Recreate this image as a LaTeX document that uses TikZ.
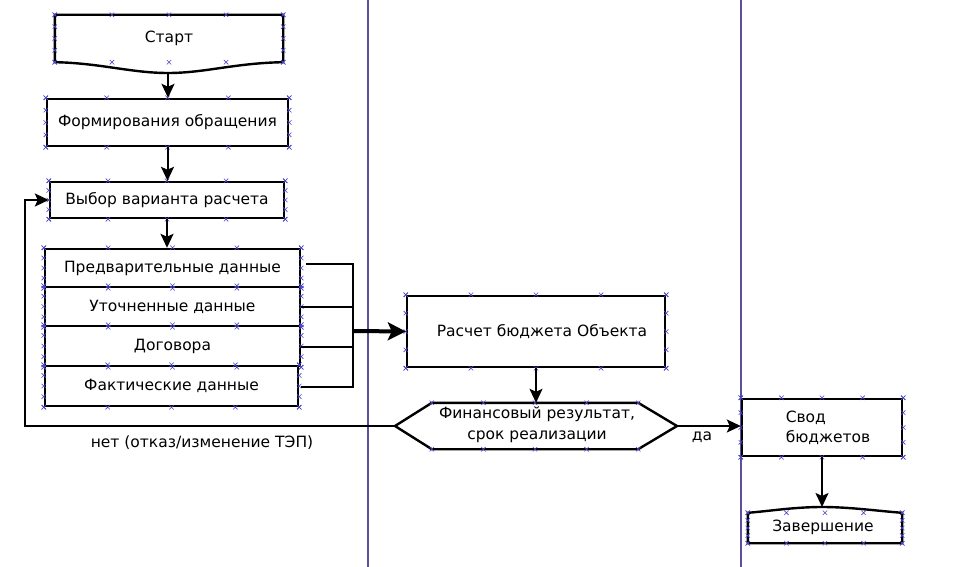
\documentclass[tikz,border=0pt]{standalone}
\usepackage{fontspec}
\setmainfont{DejaVu Sans}
\usetikzlibrary{arrows.meta,calc}
\definecolor{lane}{HTML}{5A4FA0}
\definecolor{xmcol}{HTML}{4A46C8}
\tikzset{
  box/.style={draw=black,line width=2.4pt,fill=white,inner sep=0pt,font=\fontsize{15.5}{20}\selectfont},
  ghost/.style={inner sep=0pt,font=\fontsize{15.5}{20}\selectfont},
  conn/.style={line width=2pt,-{Stealth[length=14pt,width=13pt,inset=3pt]}},
  plainconn/.style={line width=2pt},
  xmk/.style={draw=xmcol,line width=0.6pt},
  lbl/.style={inner sep=0pt,font=\fontsize{15.5}{21}\selectfont},
}
\newcommand\xmarksgen[2]{%
  \foreach \p in {0,0.25,0.5,0.75,1}{%
    \foreach \ca/\cb in {#2}{%
      \path ($(#1.\ca)!\p!(#1.\cb)$) coordinate (xmtmp);
      \draw[xmk] ($(xmtmp)+(-2.2,-2.2)$) -- ($(xmtmp)+(2.2,2.2)$) ($(xmtmp)+(-2.2,2.2)$) -- ($(xmtmp)+(2.2,-2.2)$);
    }%
  }%
}
\newcommand\xmarks[1]{\xmarksgen{#1}{north west/north east,south west/south east,north west/south west,north east/south east}}
\newcommand\xmarksTB[1]{\xmarksgen{#1}{north west/north east,south west/south east}}
\begin{document}
\begin{tikzpicture}[x=1pt,y=-1pt]
\useasboundingbox[fill=white] (0,0) rectangle (963,567);
% swimlane separators
\coordinate (l1t) at (368,0); \coordinate (l1b) at (368,567);
\coordinate (l2t) at (741,0); \coordinate (l2b) at (741,567);
\draw[lane,line width=1.2pt] (l1t) -- (l1b);
\draw[lane,line width=1.2pt] (l2t) -- (l2b);

% Start
\node[ghost,minimum width=228pt,minimum height=47pt] (start) at (169,38.5) {};
\coordinate (startpeak) at (168,73);
\draw[line width=2.4pt,fill=white] (start.south west) -- (start.north west) -- (start.north east) -- (start.south east)
  .. controls (235,63) and (205,73) .. (startpeak)
  .. controls (131,73) and (100,63) .. (start.south west) -- cycle;
\node[lbl] (starttxt) at (start.center) {Старт};
\xmarks{start}

% boxes
\node[box,minimum width=241pt,minimum height=47pt] (form) at (167.5,122.5) {Формирования обращения};
\node[box,minimum width=234pt,minimum height=36pt] (vybor) at (167,200) {Выбор варианта расчета};
\node[box,minimum width=255pt,minimum height=38pt] (r1) at (172.5,268) {\raisebox{2pt}{Предварительные данные}};
\node[box,minimum width=255pt,minimum height=39pt] (r2) at (172.5,306.5) {Уточненные данные};
\node[box,minimum width=255pt,minimum height=40pt] (r3) at (172.5,346) {Договора};
\node[box,minimum width=253pt,minimum height=40pt] (r4) at (171.5,386) {\raisebox{1pt}{Фактические данные}};
\node[box,minimum width=258pt,minimum height=71pt] (calc) at (536,331.5) {\hspace{12pt}Расчет бюджета Объекта};

% hexagon decision
\node[ghost,minimum width=206pt,minimum height=46pt] (hex) at (535,426) {};
\coordinate (hexL) at (395,426);
\coordinate (hexR) at (677,426);
\draw[line width=2.4pt,fill=white] (hex.north west) -- (hex.north east) -- (hexR) -- (hex.south east) -- (hex.south west) -- (hexL) -- cycle;
\node[lbl,align=center] (hextxt) at (537,425) {Финансовый результат,\\срок реализации};
\xmarksTB{hex}

\node[box,minimum width=160pt,minimum height=57pt] (svod) at (822,427.5) {};
\node[lbl,align=left,font=\fontsize{15.5}{20}\selectfont] (svodtxt) at (828,428) {Свод\\бюджетов};

% Zavershenie
\node[ghost,minimum width=154pt,minimum height=30pt] (zav) at (825,528) {};
\coordinate (zavpeak) at (822,507);
\draw[line width=2.4pt,fill=white] (zav.south west) -- (zav.north west)
  .. controls (770,511) and (795,507) .. (zavpeak)
  .. controls (850,507) and (878,511) .. (zav.north east) -- (zav.south east) -- cycle;
\node[lbl] (zavtxt) at (823,527) {Завершение};
\xmarks{zav}

\foreach \n in {form,vybor,r1,r2,r3,r4,calc,svod}{\xmarks{\n}}

% connectors
\draw[conn] (startpeak) -- (startpeak |- form.north);
\draw[conn] (form.south) -- (form.south |- vybor.north);
\draw[conn] (vybor.south) -- (vybor.south |- r1.north);
\coordinate (merge) at (353,331);
\draw[plainconn] ($(r1.east)+(5,-4)$) -| (merge);
\draw[plainconn] ($(r2.east)+(0,0)$) -| (merge);
\draw[plainconn] ($(r3.east)+(0,1)$) -| (merge);
\draw[plainconn] ($(r4.east)+(2,1)$) -| (merge);
\draw[line width=4pt,-{Stealth[length=18pt,width=18pt,inset=4pt]}] (merge) -- (calc.west);
\draw[conn] (calc.south) -- (calc.south |- hex.north);
\coordinate (loopcorner) at (25,426);
\draw[conn] (hexL) -- (loopcorner) |- (vybor.west);
\draw[conn] (hexR) -- (hexR -| svod.west);
\draw[conn] (svod.south) -- (svod.south |- zavpeak);

% labels
\node[lbl] (net) at (202,443) {нет (отказ/изменение ТЭП)};
\node[lbl] (da) at (702,437) {да};
\end{tikzpicture}
\end{document}
